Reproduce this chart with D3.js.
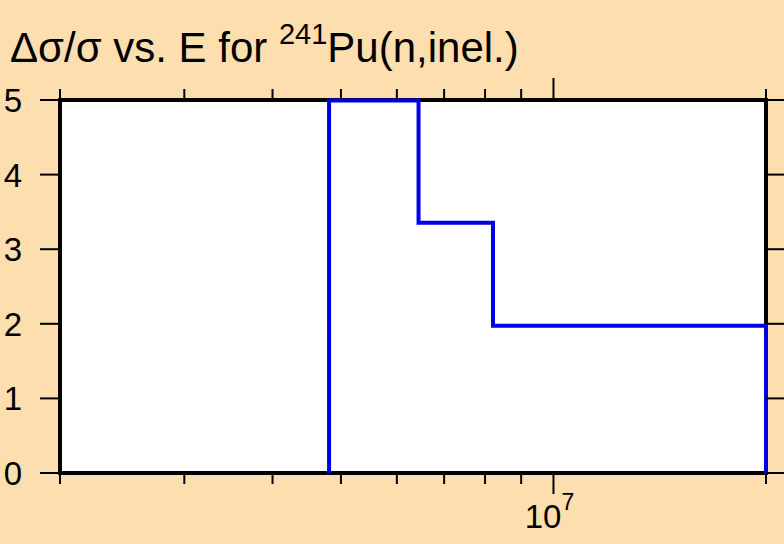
<!DOCTYPE html>
<html>
<head>
<meta charset="utf-8">
<title>241Pu(n,inel.)</title>
<script src="https://d3js.org/d3.v7.min.js"></script>
<style>
  body { margin: 0; background: #fddeae; }
  svg text { font-family: "Liberation Sans", Arial, sans-serif; fill: #000; }
</style>
</head>
<body>
<div id="chart"></div>
<script>
// group edges (eV) and relative uncertainty in each group
const edges = [4.81e6, 6.44e6, 8.21e6, 2.0e7];
const values = [5.0, 3.36, 1.98];
const yTicks = [0, 1, 2, 3, 4, 5];
const xMinor = [2e6, 3e6, 4e6, 5e6, 6e6, 7e6, 8e6, 9e6, 2e7];
const xMajor = [1e7];

const W = 784, H = 544;
const margin = {top: 100, right: 18, bottom: 71, left: 60};

const svg = d3.select("#chart").append("svg")
    .attr("width", W).attr("height", H);

svg.append("rect").attr("width", W).attr("height", H).attr("fill", "#fddeae");

const x = d3.scaleLog().domain([2e6, 2e7]).range([margin.left, W - margin.right]);
const y = d3.scaleLinear().domain([0, 5]).range([H - margin.bottom, margin.top]);

const x0 = x.range()[0], x1 = x.range()[1];
const y0 = y.range()[0], y1 = y.range()[1];

// plot area
svg.append("rect")
    .attr("x", x0).attr("y", y1)
    .attr("width", x1 - x0).attr("height", y0 - y1)
    .attr("fill", "#fff");

// frame
svg.append("rect")
    .attr("x", x0).attr("y", y1)
    .attr("width", x1 - x0).attr("height", y0 - y1)
    .attr("fill", "none").attr("stroke", "#000").attr("stroke-width", 4);

// step line, on top of the frame
const pts = [[edges[0], 0]];
values.forEach((v, i) => {
    pts.push([edges[i], v]);
    pts.push([edges[i + 1], v]);
});
pts.push([edges[edges.length - 1], 0]);

svg.append("path")
    .attr("d", d3.line().x(d => x(d[0])).y(d => y(d[1]))(pts))
    .attr("fill", "none")
    .attr("stroke", "#0000e6")
    .attr("stroke-width", 4)
    .attr("transform", "translate(0,0.5)");

const tk = svg.append("g").attr("stroke", "#000").attr("stroke-width", 2);

// y ticks, left and right, outside
yTicks.forEach(v => {
    tk.append("line").attr("x1", x0 - 20).attr("x2", x0).attr("y1", y(v)).attr("y2", y(v));
    tk.append("line").attr("x1", x1).attr("x2", x1 + 20).attr("y1", y(v)).attr("y2", y(v));
});

// x ticks, bottom and top, outside
xMinor.forEach(v => {
    tk.append("line").attr("x1", x(v)).attr("x2", x(v)).attr("y1", y0).attr("y2", y0 + 11);
    tk.append("line").attr("x1", x(v)).attr("x2", x(v)).attr("y1", y1).attr("y2", y1 - 11);
});
xMajor.forEach(v => {
    tk.append("line").attr("x1", x(v)).attr("x2", x(v)).attr("y1", y0).attr("y2", y0 + 21);
    tk.append("line").attr("x1", x(v)).attr("x2", x(v)).attr("y1", y1).attr("y2", y1 - 22);
});

// y labels
svg.append("g").selectAll("text").data(yTicks).join("text")
    .attr("x", 22).attr("y", d => y(d) + 12)
    .attr("text-anchor", "end")
    .style("font-size", "33px")
    .text(d => d);

// x labels
xMajor.forEach(v => {
    const t = svg.append("text")
        .attr("x", x(v) - 4).attr("y", 528)
        .attr("text-anchor", "middle")
        .style("font-size", "33px");
    t.append("tspan").text("10");
    t.append("tspan").attr("dy", -18).style("font-size", "23px").text(Math.round(Math.log10(v)));
});

// title
const title = svg.append("text")
    .attr("x", 10).attr("y", 62)
    .style("font-size", "42px");
title.append("tspan").text("\u0394\u03c3/\u03c3 vs. E for ");
title.append("tspan").attr("dy", -18).style("font-size", "29px").text("241");
title.append("tspan").attr("dy", 18).text("Pu(n,inel.)");
</script>
</body>
</html>
